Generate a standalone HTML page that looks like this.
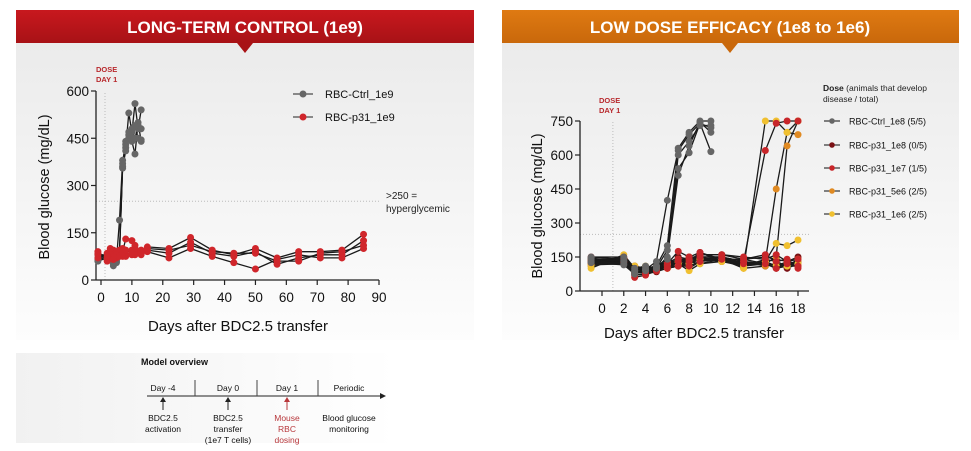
<!DOCTYPE html>
<html><head><meta charset="utf-8">
<style>
body{margin:0;background:#fff;width:971px;height:451px;overflow:hidden;font-family:"Liberation Sans",Arial,sans-serif}
svg{display:block}
</style></head>
<body>
<svg id="root" width="971" height="451" viewBox="0 0 971 451" xmlns="http://www.w3.org/2000/svg">
<defs>
<linearGradient id="pg" x1="0" y1="0" x2="0" y2="1"><stop offset="0" stop-color="#ebebeb"/><stop offset="1" stop-color="#fdfdfd"/></linearGradient>
<linearGradient id="rg" x1="0" y1="0" x2="0" y2="1"><stop offset="0" stop-color="#c8181e"/><stop offset="1" stop-color="#a81216"/></linearGradient>
<linearGradient id="og" x1="0" y1="0" x2="0" y2="1"><stop offset="0" stop-color="#df7a12"/><stop offset="1" stop-color="#c9680b"/></linearGradient>
<linearGradient id="mg" x1="0" y1="0" x2="1" y2="0"><stop offset="0" stop-color="#f1f1f1"/><stop offset="1" stop-color="#ffffff"/></linearGradient>
</defs>
<rect x="16" y="43" width="458" height="297" fill="url(#pg)"/>
<rect x="502" y="43" width="457" height="297" fill="url(#pg)"/>
<rect x="16" y="353" width="380" height="90" fill="url(#mg)"/>
<g>
<rect x="16" y="10" width="458" height="33" fill="url(#rg)"/>
<polygon points="237,43 253,43 245,53" fill="#a81216"/>
<text x="245" y="33" text-anchor="middle" font-size="17" font-weight="bold" fill="#fff">LONG-TERM CONTROL (1e9)</text>
</g>
<g>
<rect x="502" y="10" width="457" height="33" fill="url(#og)"/>
<polygon points="722,43 738,43 730,53" fill="#c9680b"/>
<text x="730" y="33" text-anchor="middle" font-size="17" font-weight="bold" fill="#fff">LOW DOSE EFFICACY (1e8 to 1e6)</text>
</g>
<g id="L"></g>
<g id="R"></g>
<g font-size="8.5" fill="#111">
<text x="141" y="365" font-weight="bold" font-size="9">Model overview</text>
<line x1="147" y1="396" x2="380" y2="396" stroke="#222" stroke-width="1"/>
<polygon points="380,393 386,396 380,399" fill="#222"/>
<line x1="195" y1="380" x2="195" y2="396" stroke="#444"/>
<line x1="257" y1="380" x2="257" y2="396" stroke="#444"/>
<line x1="318" y1="380" x2="318" y2="396" stroke="#444"/>
<text x="163" y="391" text-anchor="middle">Day -4</text>
<text x="228" y="391" text-anchor="middle">Day 0</text>
<text x="287" y="391" text-anchor="middle">Day 1</text>
<text x="349" y="391" text-anchor="middle">Periodic</text>
<g stroke="#222"><line x1="163" y1="410" x2="163" y2="400"/><line x1="228" y1="410" x2="228" y2="400"/></g>
<polygon points="160,402 163,397 166,402" fill="#222"/><polygon points="225,402 228,397 231,402" fill="#222"/>
<line x1="287" y1="410" x2="287" y2="400" stroke="#b8383c"/><polygon points="284,402 287,397 290,402" fill="#b8383c"/>
<text x="163" y="421" text-anchor="middle">BDC2.5</text><text x="163" y="432" text-anchor="middle">activation</text>
<text x="228" y="421" text-anchor="middle">BDC2.5</text><text x="228" y="432" text-anchor="middle">transfer</text><text x="228" y="443" text-anchor="middle">(1e7 T cells)</text>
<text x="287" y="421" text-anchor="middle" fill="#b8383c">Mouse</text><text x="287" y="432" text-anchor="middle" fill="#b8383c">RBC</text><text x="287" y="443" text-anchor="middle" fill="#b8383c">dosing</text>
<text x="349" y="421" text-anchor="middle">Blood glucose</text><text x="349" y="432" text-anchor="middle">monitoring</text>
</g>
</svg>
<script>
// ---------- LEFT CHART DATA ----------
const leftCtrlDays = [-1, 2, 4, 5, 6, 7, 8, 9, 10, 11, 12, 13];
const leftCtrlVals = [
  [60, 70, 50, 60, 190, 380, 420, 530, 470, 560, 480, 540],
  [70, 65, 55, 65, 80, 355, 410, 450, 440, 400, 500, 440],
  [80, 75, 60, 70, 90, 370, 440, 470, 480, 450, 490, 480],
  [65, 80, 45, 55, 85, 360, 430, 460, 450, 490, 450, 445]
];
const leftP31Days = [-1, 2, 3, 4, 5, 6, 7, 8, 10, 11, 13, 15, 22, 29, 36, 43, 50, 57, 64, 71, 78, 85];
const leftP31Vals = [
  [80, 70, 90, 80, 70, 85, 90, 130, 125, 90, 80, 105, 100, 135, 95, 80, 100, 70, 90, 90, 95, 145],
  [70, 85, 80, 95, 75, 80, 100, 80, 80, 100, 95, 95, 85, 120, 85, 75, 90, 50, 70, 80, 80, 125],
  [90, 60, 70, 70, 90, 95, 75, 75, 95, 80, 90, 90, 70, 100, 75, 55, 35, 65, 80, 70, 70, 100],
  [85, 75, 100, 65, 80, 75, 85, 95, 85, 110, 85, 100, 95, 110, 90, 85, 85, 60, 60, 85, 90, 110]
];
const leftYTicks = [0, 150, 300, 450, 600];
const leftXTicks = [0, 10, 20, 30, 40, 50, 60, 70, 80, 90];

// ---------- RIGHT CHART DATA ----------
const rightCtrlDays = [-1, 2, 3, 4, 5, 6, 7, 8, 9, 10];
const rightCtrlVals = [
  [150, 150, 100, 95, 130, 400, 620, 690, 740, 615],
  [140, 135, 90, 100, 110, 200, 630, 700, 750, 750],
  [130, 120, 80, 95, 100, 180, 540, 610, 740, 720],
  [145, 130, 85, 110, 100, 150, 510, 640, 745, 700],
  [125, 115, 75, 90, 110, 140, 600, 660, 730, 730]
];
const rightDays = [-1, 2, 3, 4, 5, 6, 7, 8, 9, 11, 13, 15, 16, 17, 18];
const rightP31_1e8 = [
  [140, 140, 110, 100, 100, 120, 150, 140, 160, 160, 140, 150, 140, 130, 150],
  [130, 130, 90, 80, 90, 110, 120, 130, 150, 150, 120, 130, 110, 120, 130],
  [120, 125, 70, 75, 85, 100, 110, 120, 140, 140, 110, 120, 100, 110, 110],
  [135, 120, 80, 90, 95, 130, 130, 150, 170, 130, 130, 110, 120, 100, 120]
];
const rightP31_1e7 = [
  [130, 150, 60, 70, 90, 120, 175, 150, 150, 150, 130, 620, 740, 750, 750],
  [140, 130, 80, 80, 100, 130, 140, 140, 160, 160, 150, 140, 160, 130, 140],
  [125, 125, 90, 95, 110, 110, 110, 110, 130, 150, 120, 120, 100, 120, 110],
  [150, 140, 100, 90, 90, 100, 130, 130, 170, 140, 140, 160, 130, 140, 100]
];
const rightP31_5e6 = [
  [110, 140, 110, 90, 100, 120, 130, 100, 130, 150, 110, 130, 450, 700, 690],
  [130, 145, 90, 100, 110, 130, 120, 150, 140, 130, 140, 120, 150, 640, 750],
  [140, 125, 80, 85, 100, 110, 140, 120, 150, 150, 100, 110, 120, 110, 130],
  [120, 130, 95, 100, 90, 100, 110, 130, 120, 130, 120, 130, 110, 120, 110]
];
const rightP31_1e6 = [
  [100, 160, 100, 110, 100, 110, 120, 90, 120, 140, 100, 750, 750, 700, 750],
  [125, 140, 110, 90, 110, 120, 130, 110, 130, 140, 120, 130, 210, 200, 225],
  [140, 130, 90, 100, 90, 100, 110, 120, 140, 150, 130, 120, 110, 130, 120],
  [115, 120, 80, 95, 105, 115, 125, 140, 150, 130, 110, 140, 130, 110, 140]
];
const rightYTicks = [0, 150, 300, 450, 600, 750];
const rightXTicks = [0, 2, 4, 6, 8, 10, 12, 14, 16, 18];

const NS = "http://www.w3.org/2000/svg";
function mk(parent, tag, attrs) {
  const e = document.createElementNS(NS, tag);
  for (const k in attrs) e.setAttribute(k, attrs[k]);
  parent.appendChild(e);
  return e;
}
function txt(parent, x, y, s, attrs) {
  const t = mk(parent, "text", Object.assign({ x: x, y: y }, attrs || {}));
  t.textContent = s;
  return t;
}

const L = document.getElementById("L");
const lx = d => 101 + (d - 0) * (379 - 101) / 90;
const ly = v => 280 - v * (280 - 91) / 600;
const R = document.getElementById("R");
const rx = d => 602 + d * (798 - 602) / 18;
const ry = v => 291 - v * (291 - 121) / 750;

function drawAxes(g, xf, yf, xt, yt, x0, x1, yMax, name) {
  const ax = mk(g, "g", {});
  
  
  mk(ax, "line", { x1: x0, y1: yf(0), x2: x1, y2: yf(0), stroke: "#222", "stroke-width": 1.3 });
  mk(ax, "line", { x1: x0, y1: yf(0), x2: x0, y2: yf(yMax), stroke: "#222", "stroke-width": 1.3 });
  yt.forEach(v => {
    mk(ax, "line", { x1: x0 - 5, y1: yf(v), x2: x0, y2: yf(v), stroke: "#222", "stroke-width": 1.2 });
    const t = txt(ax, x0 - 7, yf(v) + 5, String(v), { "text-anchor": "end", "font-size": 13.5, fill: "#111" });
    
    
  });
  xt.forEach(d => {
    mk(ax, "line", { x1: xf(d), y1: yf(0), x2: xf(d), y2: yf(0) + 5, stroke: "#222", "stroke-width": 1.2 });
    const t = txt(ax, xf(d), yf(0) + 22, String(d), { "text-anchor": "middle", "font-size": 13.5, fill: "#111" });
    
    
  });
}
function drawSeries(g, xf, yf, days, rows, color, name) {
  const sg = mk(g, "g", {});
  
  
  rows.forEach(r => {
    const pts = r.map((v, i) => xf(days[i]).toFixed(1) + "," + yf(v).toFixed(1)).join(" ");
    mk(sg, "polyline", { points: pts, fill: "none", stroke: "#1a1a1a", "stroke-width": 1.3 });
  });
  rows.forEach(r => {
    r.forEach((v, i) => {
      const c = mk(sg, "circle", { cx: xf(days[i]), cy: yf(v), r: 3.5, fill: color });
      
      
    });
  });
}

// left chart
mk(L, "line", { x1: 105, y1: ly(0), x2: 105, y2: ly(600), stroke: "#bbb", "stroke-dasharray": "1,2" });
mk(L, "line", { x1: 96, y1: ly(250), x2: 380, y2: ly(250), stroke: "#bbb", "stroke-dasharray": "1,2" });
drawAxes(L, lx, ly, leftXTicks, leftYTicks, 96, 379, 600, "left");
drawSeries(L, lx, ly, leftCtrlDays, leftCtrlVals, "#666", "left-ctrl-series");
drawSeries(L, lx, ly, leftP31Days, leftP31Vals, "#d0262b", "left-p31-series");
txt(L, 96, 72, "DOSE", { "font-size": 7.5, "font-weight": "bold", fill: "#b8282c" });
txt(L, 96, 82, "DAY 1", { "font-size": 7.5, "font-weight": "bold", fill: "#b8282c" });
txt(L, 386, 199, ">250 =", { "font-size": 10, fill: "#222" });
txt(L, 386, 212, "hyperglycemic", { "font-size": 10, fill: "#222" });
txt(L, 238, 331, "Days after BDC2.5 transfer", { "text-anchor": "middle", "font-size": 15, fill: "#111" });
txt(L, 0, 0, "Blood glucose (mg/dL)", { "text-anchor": "middle", "font-size": 14.5, fill: "#111", transform: "translate(49,187) rotate(-90)" });
[["#666", "RBC-Ctrl_1e9", 94], ["#d0262b", "RBC-p31_1e9", 117]].forEach(e => {
  const lg = mk(L, "g", {});
  
  
  mk(lg, "line", { x1: 293, y1: e[2], x2: 313, y2: e[2], stroke: "#222", "stroke-width": 1.1 });
  mk(lg, "circle", { cx: 303, cy: e[2], r: 3.5, fill: e[0] });
  txt(lg, 325, e[2] + 4, e[1], { "font-size": 11, fill: "#111" });
});

// right chart
mk(R, "line", { x1: rx(1), y1: ry(0), x2: rx(1), y2: ry(750), stroke: "#bbb", "stroke-dasharray": "1,2" });
mk(R, "line", { x1: 580, y1: ry(250), x2: 810, y2: ry(250), stroke: "#bbb", "stroke-dasharray": "1,2" });
drawAxes(R, rx, ry, rightXTicks, rightYTicks, 580, 809, 750, "right");
drawSeries(R, rx, ry, rightDays, rightP31_1e8, "#7a1014", "right-p31-1e8-series");
drawSeries(R, rx, ry, rightDays, rightP31_5e6, "#e08a22", "right-p31-5e6-series");
drawSeries(R, rx, ry, rightDays, rightP31_1e6, "#f0c030", "right-p31-1e6-series");
drawSeries(R, rx, ry, rightDays, rightP31_1e7, "#c8262a", "right-p31-1e7-series");
drawSeries(R, rx, ry, rightCtrlDays, rightCtrlVals, "#666", "right-ctrl-series");
txt(R, 599, 103, "DOSE", { "font-size": 7.5, "font-weight": "bold", fill: "#b8282c" });
txt(R, 599, 113, "DAY 1", { "font-size": 7.5, "font-weight": "bold", fill: "#b8282c" });
txt(R, 694, 338, "Days after BDC2.5 transfer", { "text-anchor": "middle", "font-size": 15, fill: "#111" });
txt(R, 0, 0, "Blood glucose (mg/dL)", { "text-anchor": "middle", "font-size": 14.5, fill: "#111", transform: "translate(542,206) rotate(-90)" });
const lt = txt(R, 823, 91, "", { "font-size": 8.5, fill: "#222" });
lt.innerHTML = '<tspan font-weight="bold">Dose</tspan> (animals that develop';
txt(R, 823, 102, "disease / total)", { "font-size": 8.5, fill: "#222" });
[["#666", "RBC-Ctrl_1e8 (5/5)", 121], ["#7a1014", "RBC-p31_1e8 (0/5)", 145], ["#c8262a", "RBC-p31_1e7 (1/5)", 168], ["#e08a22", "RBC-p31_5e6 (2/5)", 191], ["#f0c030", "RBC-p31_1e6 (2/5)", 214]].forEach(e => {
  const lg = mk(R, "g", {});
  
  
  mk(lg, "line", { x1: 824, y1: e[2], x2: 840, y2: e[2], stroke: "#222", "stroke-width": 1.1 });
  mk(lg, "circle", { cx: 832, cy: e[2], r: 2.8, fill: e[0] });
  txt(lg, 849, e[2] + 3.5, e[1], { "font-size": 9, fill: "#111" });
});
</script>
</body></html>
